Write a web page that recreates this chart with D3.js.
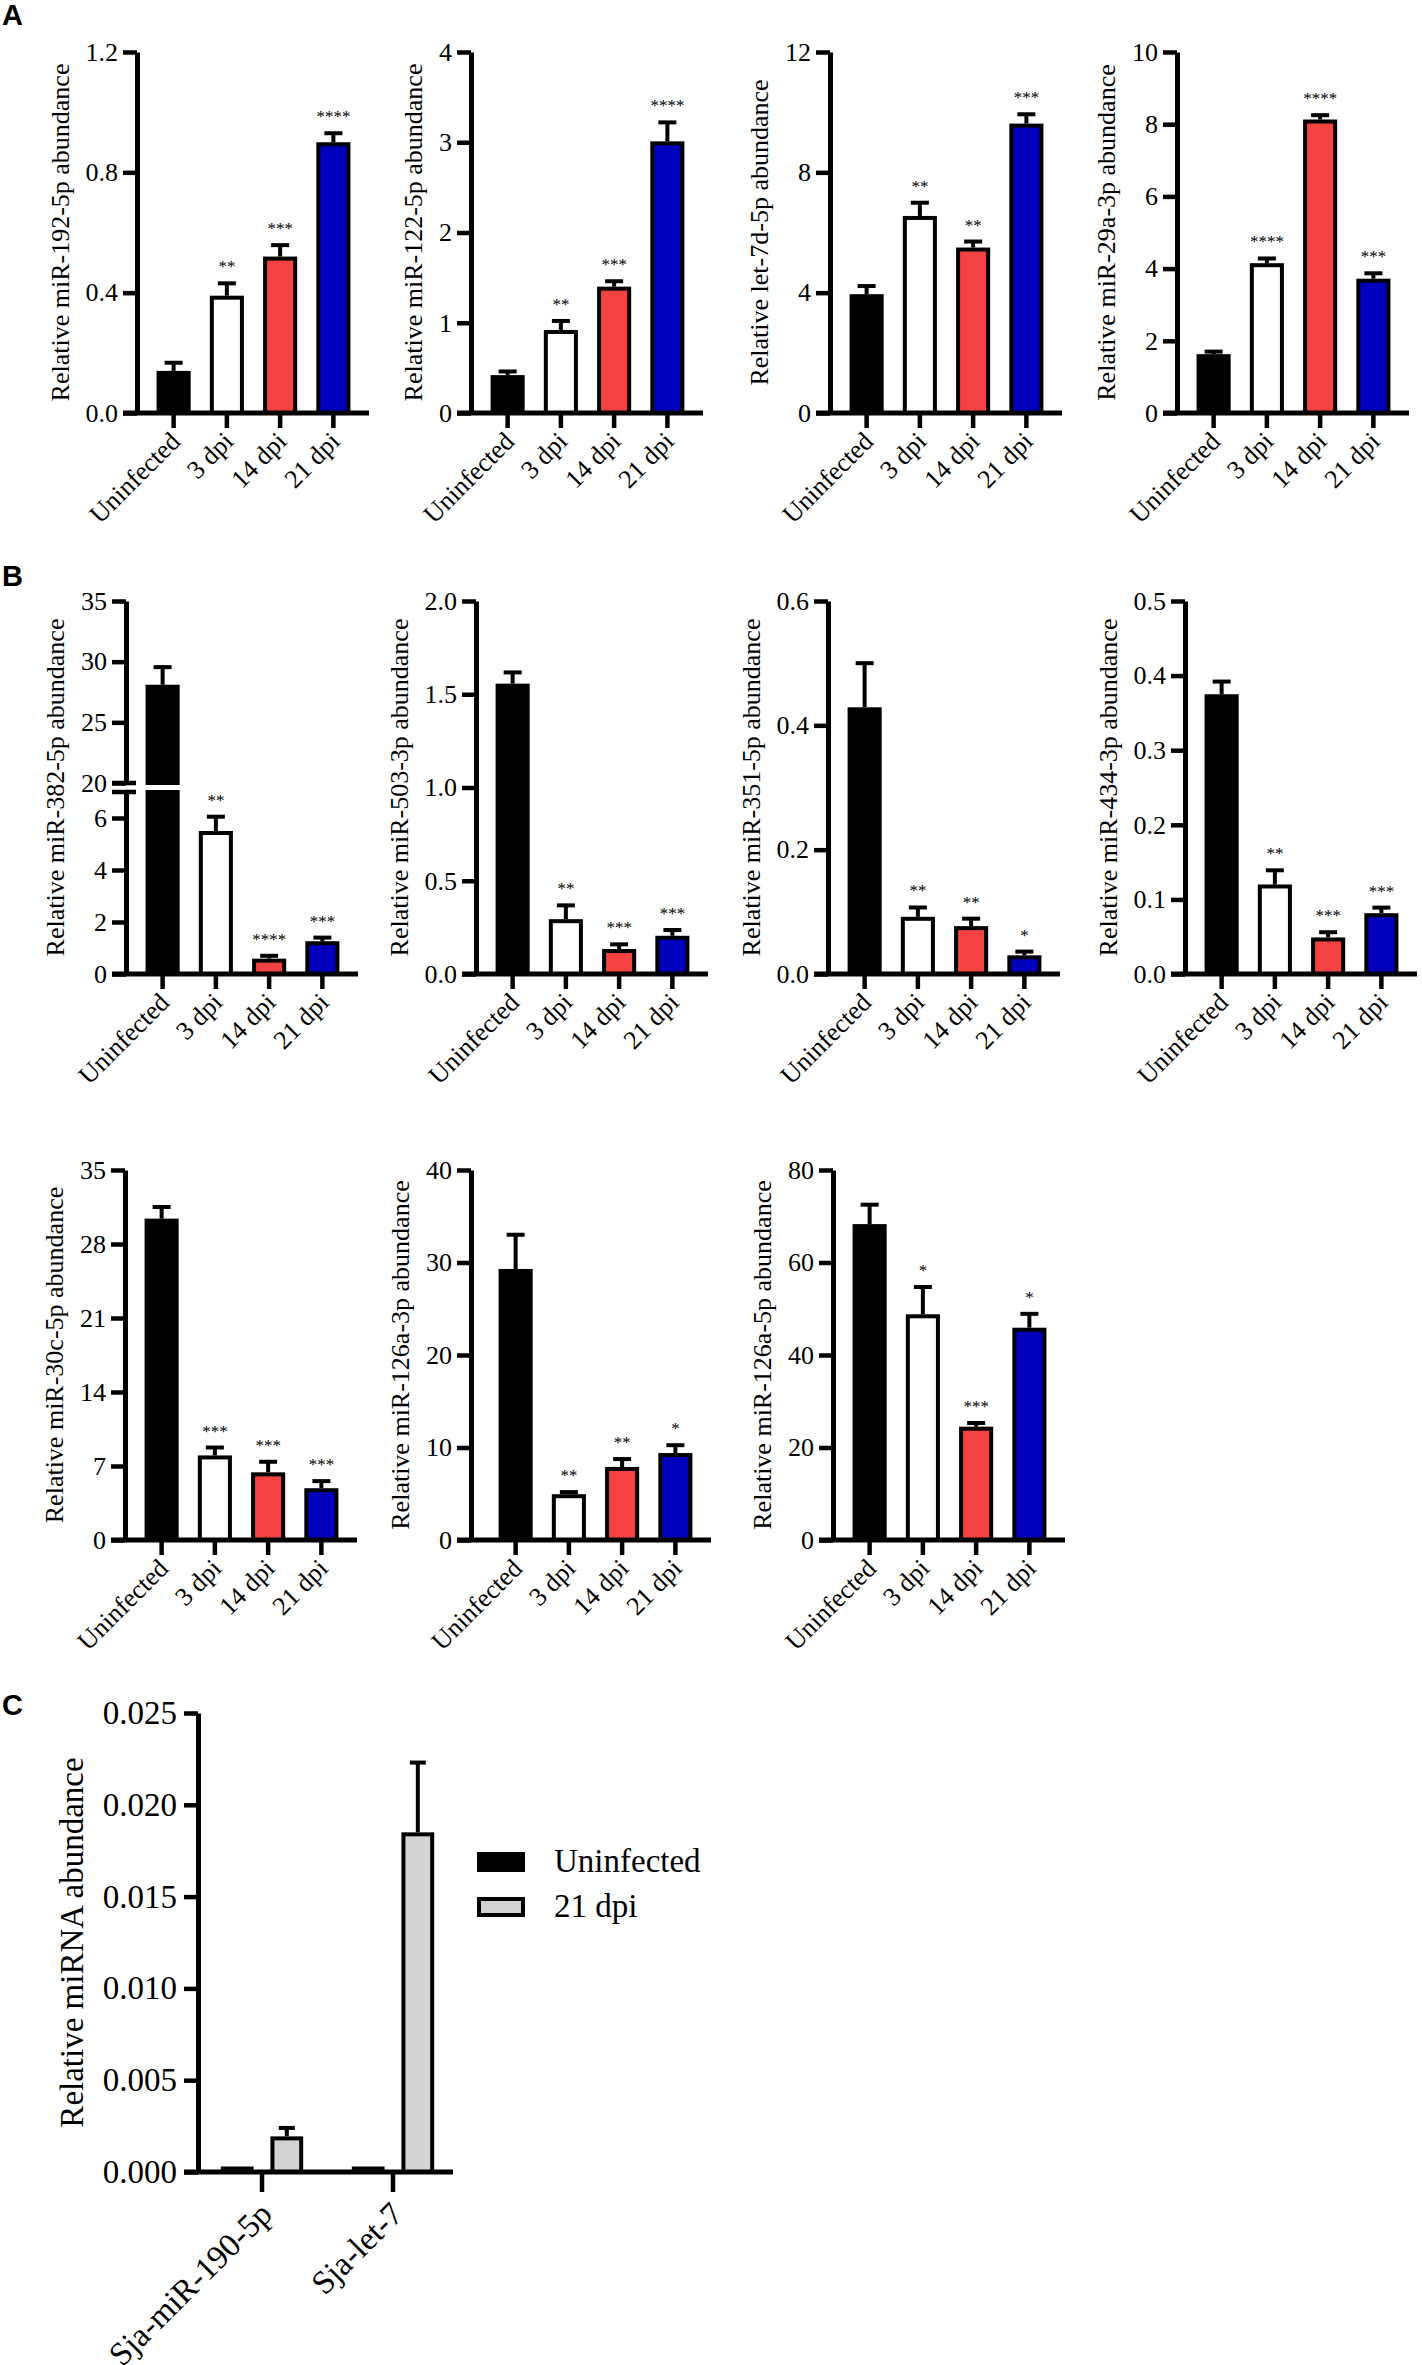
<!DOCTYPE html>
<html>
<head>
<meta charset="utf-8">
<script src="https://cdn.jsdelivr.net/npm/d3@7"></script>
<style>
  body { margin: 0; background: #fff; }
  svg { display: block; }
  text { font-family: "Liberation Serif", "DejaVu Serif", "Times New Roman", serif; fill: #000; }
</style>
</head>
<body>
<svg width="1422" height="2365"></svg>
<script>
  // DATA
  var groups = ["Uninfected", "3 dpi", "14 dpi", "21 dpi"];
  var groupColors = ["#000000", "#ffffff", "#f44242", "#0000bd"];

  var mir192 = [0.14, 0.39, 0.52, 0.90];
  var mir192Err = [0.027, 0.041, 0.038, 0.03];
  var mir192Sig = ["", "**", "***", "****"];

  var mir122 = [0.42, 0.92, 1.40, 3.01];
  var mir122Err = [0.04, 0.10, 0.06, 0.21];
  var mir122Sig = ["", "**", "***", "****"];

  var let7d = [3.95, 6.55, 5.5, 9.62];
  var let7dErr = [0.27, 0.44, 0.2, 0.31];
  var let7dSig = ["", "**", "**", "***"];

  var mir29a = [1.63, 4.15, 8.13, 3.72];
  var mir29aErr = [0.07, 0.13, 0.12, 0.15];
  var mir29aSig = ["", "****", "****", "***"];

  var mir382 = [28.1, 5.5, 0.59, 1.26];
  var mir382Err = [1.45, 0.55, 0.11, 0.14];
  var mir382Sig = ["", "**", "****", "***"];

  var mir503 = [1.557, 0.294, 0.134, 0.205];
  var mir503Err = [0.06, 0.074, 0.025, 0.031];
  var mir503Sig = ["", "**", "***", "***"];

  var mir351 = [0.429, 0.092, 0.077, 0.030];
  var mir351Err = [0.071, 0.015, 0.012, 0.006];
  var mir351Sig = ["", "**", "**", "*"];

  var mir434 = [0.375, 0.12, 0.049, 0.0815];
  var mir434Err = [0.017, 0.019, 0.007, 0.0075];
  var mir434Sig = ["", "**", "***", "***"];

  var mir30c = [30.4, 8.0, 6.4, 4.9];
  var mir30cErr = [1.1, 0.75, 1.0, 0.67];
  var mir30cSig = ["", "***", "***", "***"];

  var mir126a3p = [29.3, 4.95, 7.9, 9.4];
  var mir126a3pErr = [3.7, 0.23, 0.85, 0.85];
  var mir126a3pSig = ["", "**", "**", "*"];

  var mir126a5p = [68.3, 48.8, 24.5, 45.9];
  var mir126a5pErr = [4.2, 5.9, 0.8, 3.0];
  var mir126a5pSig = ["", "*", "***", "*"];

  // panel C
  var sjaMirs = ["Sja-miR-190-5p", "Sja-let-7"];
  var sjaGroups = ["Uninfected", "21 dpi"];
  var sjaColors = ["#000000", "#d3d3d3"];
  var sjaUninf = [0.0003, 0.0003];
  var sjaUninfErr = [0, 0];
  var sja21 = [0.00194, 0.0185];
  var sja21Err = [0.00046, 0.0038];
  var sjaTicks = [0, 0.005, 0.010, 0.015, 0.020, 0.025];

  // SETUP
  var svg = d3.select("svg");
  var serif = '"Liberation Serif", "DejaVu Serif", "Times New Roman", serif';

  var panels = [
    { label: "Relative miR-192-5p abundance", v: mir192, e: mir192Err, s: mir192Sig, ticks: [0, 0.4, 0.8, 1.2], fmt: ".1f" },
    { label: "Relative miR-122-5p abundance", v: mir122, e: mir122Err, s: mir122Sig, ticks: [0, 1, 2, 3, 4], fmt: "d" },
    { label: "Relative let-7d-5p abundance", v: let7d, e: let7dErr, s: let7dSig, ticks: [0, 4, 8, 12], fmt: "d" },
    { label: "Relative miR-29a-3p abundance", v: mir29a, e: mir29aErr, s: mir29aSig, ticks: [0, 2, 4, 6, 8, 10], fmt: "d" },
    { label: "Relative miR-382-5p abundance", v: mir382, e: mir382Err, s: mir382Sig, ticks: [0, 2, 4, 6], upperTicks: [20, 25, 30, 35], fmt: "d" },
    { label: "Relative miR-503-3p abundance", v: mir503, e: mir503Err, s: mir503Sig, ticks: [0, 0.5, 1, 1.5, 2], fmt: ".1f" },
    { label: "Relative miR-351-5p abundance", v: mir351, e: mir351Err, s: mir351Sig, ticks: [0, 0.2, 0.4, 0.6], fmt: ".1f" },
    { label: "Relative miR-434-3p abundance", v: mir434, e: mir434Err, s: mir434Sig, ticks: [0, 0.1, 0.2, 0.3, 0.4, 0.5], fmt: ".1f" },
    { label: "Relative miR-30c-5p abundance", v: mir30c, e: mir30cErr, s: mir30cSig, ticks: [0, 7, 14, 21, 28, 35], fmt: "d" },
    { label: "Relative miR-126a-3p abundance", v: mir126a3p, e: mir126a3pErr, s: mir126a3pSig, ticks: [0, 10, 20, 30, 40], fmt: "d" },
    { label: "Relative miR-126a-5p abundance", v: mir126a5p, e: mir126a5pErr, s: mir126a5pSig, ticks: [0, 20, 40, 60, 80], fmt: "d" }
  ];

  // layout: axis x positions (and bar shift) and plot top/bottom for each row
  var rows = [
    { xs: [137, 471, 830, 1177], shift: [0, 0, 0, 0], top: 52, bottom: 413, first: 0 },
    { xs: [126, 476, 828, 1185], shift: [0, 0, 0, 0], top: 601, bottom: 974, first: 4 },
    { xs: [125, 471, 833], shift: [0, 8, 0], top: 1170, bottom: 1540, first: 8 }
  ];

  rows.forEach(function (r) {
    r.xs.forEach(function (X, i) {
      drawPanel(panels[r.first + i], X, r.shift[i], r.top, r.bottom);
    });
  });

  // panel letters
  [["A", 25], ["B", 586], ["C", 1715]].forEach(function (l) {
    svg.append("text").attr("x", 2).attr("y", l[1]).text(l[0])
      .style("font-family", '"Liberation Sans", Arial, sans-serif')
      .attr("font-weight", "bold").attr("font-size", 29);
  });

  drawSja(198, 1713, 2172);

  function styleYAxis(a) {
    a.select(".domain").attr("stroke-width", 5);
    a.selectAll(".tick line").attr("stroke-width", 4.5);
    a.attr("font-family", serif).attr("font-size", 26);
  }

  function drawPanel(p, X, shift, top, bottom) {
    var g = svg.append("g").attr("transform", "translate(" + X + ",0)");
    var x = d3.scaleBand().domain(groups).range([10 + shift, 223 + shift]).paddingInner(0.36).paddingOuter(0.18);
    var bw = x.bandwidth();
    var broken = !!p.upperTicks;

    // scales (broken axis for miR-382)
    var yLow, yUp = null, cut = 0;
    if (broken) {
      var mid = (top + bottom) / 2;
      yLow = d3.scaleLinear().domain([0, 7]).range([bottom, mid + 4.5]);
      yUp = d3.scaleLinear().domain([20, 35]).range([mid - 4.5, top]);
      cut = 7;
    } else {
      yLow = d3.scaleLinear().domain([0, d3.max(p.ticks)]).range([bottom, top]);
    }
    function yv(v) { return (broken && v > cut) ? yUp(v) : yLow(v); }

    // bars
    p.v.forEach(function (v, i) {
      var x0 = x(groups[i]) + 2, w = bw - 4;
      if (broken && v > cut) {
        g.append("rect").attr("x", x0).attr("width", w)
          .attr("y", yLow(cut)).attr("height", bottom - yLow(cut))
          .attr("fill", groupColors[i]).attr("stroke", "#000").attr("stroke-width", 4);
        g.append("rect").attr("x", x0).attr("width", w)
          .attr("y", yUp(v) + 2).attr("height", yUp(20) - yUp(v) - 2)
          .attr("fill", groupColors[i]).attr("stroke", "#000").attr("stroke-width", 4);
      } else {
        g.append("rect").attr("x", x0).attr("width", w)
          .attr("y", yLow(v) + 2).attr("height", Math.max(0, bottom - yLow(v) - 2))
          .attr("fill", groupColors[i]).attr("stroke", "#000").attr("stroke-width", 4);
      }
      // error bar
      var cx = x(groups[i]) + bw / 2, y1 = yv(v), y2 = yv(v + p.e[i]);
      g.append("line").attr("x1", cx).attr("x2", cx).attr("y1", y1).attr("y2", y2)
        .attr("stroke", "#000").attr("stroke-width", 4);
      g.append("line").attr("x1", cx - 9).attr("x2", cx + 9).attr("y1", y2).attr("y2", y2)
        .attr("stroke", "#000").attr("stroke-width", 4);
      if (p.s[i]) {
        g.append("text").attr("x", cx).attr("y", y2 - 11)
          .attr("text-anchor", "middle").attr("font-size", 17).text(p.s[i]);
      }
    });

    // y axis
    var ya = g.append("g").call(d3.axisLeft(yLow).tickValues(p.ticks)
      .tickFormat(d3.format(p.fmt)).tickSize(14).tickSizeOuter(0).tickPadding(5));
    styleYAxis(ya);
    var yAxes = [ya];
    if (broken) {
      var yb = g.append("g").call(d3.axisLeft(yUp).tickValues(p.upperTicks)
        .tickFormat(d3.format("d")).tickSize(14).tickSizeOuter(0).tickPadding(5));
      styleYAxis(yb);
      yAxes.push(yb);
      [yUp(20), yLow(cut)].forEach(function (yy) {
        g.append("line").attr("x1", -14).attr("x2", 10).attr("y1", yy).attr("y2", yy)
          .attr("stroke", "#000").attr("stroke-width", 4.5);
      });
    }

    // x axis
    g.append("line").attr("x1", -14).attr("x2", 232 + shift).attr("y1", bottom).attr("y2", bottom)
      .attr("stroke", "#000").attr("stroke-width", 5);
    var xa = g.append("g").attr("transform", "translate(0," + bottom + ")")
      .call(d3.axisBottom(x).tickSize(15).tickSizeOuter(0));
    xa.select(".domain").remove();
    xa.selectAll(".tick line").attr("stroke-width", 4.5);
    xa.attr("font-family", serif).attr("font-size", 26);
    xa.selectAll(".tick text")
      .attr("x", 0).attr("y", 0).attr("dy", 0)
      .attr("text-anchor", "end")
      .attr("transform", "translate(8,30) rotate(-45)");

    // y label, placed left of the widest tick label
    var minX = 0;
    yAxes.forEach(function (a) {
      a.selectAll(".tick text").each(function () { minX = Math.min(minX, this.getBBox().x); });
    });
    var cy = (top + bottom) / 2;
    g.append("text").attr("transform", "translate(" + (minX - 17) + "," + cy + ") rotate(-90)")
      .attr("text-anchor", "middle").attr("font-size", 26).text(p.label);
  }

  function drawSja(X, top, bottom) {
    var g = svg.append("g").attr("transform", "translate(" + X + ",0)");
    var x0 = d3.scaleBand().domain(sjaMirs).range([-1.5, 260.5]);
    var x1 = d3.scaleBand().domain(sjaGroups).range([0, x0.bandwidth()]).paddingInner(0.34).paddingOuter(0.49);
    var y = d3.scaleLinear().domain([0, 0.025]).range([bottom, top]);
    var series = [
      { name: sjaGroups[0], v: sjaUninf, e: sjaUninfErr, c: sjaColors[0] },
      { name: sjaGroups[1], v: sja21, e: sja21Err, c: sjaColors[1] }
    ];
    series.forEach(function (s) {
      sjaMirs.forEach(function (m, i) {
        var bx = x0(m) + x1(s.name);
        var bw = x1.bandwidth();
        var top0 = Math.min(y(s.v[i]), bottom - 4);
        g.append("rect").attr("x", bx + 2).attr("width", bw - 4)
          .attr("y", top0 + 2).attr("height", Math.max(1, bottom - top0 - 2))
          .attr("fill", s.c).attr("stroke", "#000").attr("stroke-width", 4);
        if (s.e[i] > 0) {
          var cx = bx + bw / 2;
          g.append("line").attr("x1", cx).attr("x2", cx).attr("y1", y(s.v[i])).attr("y2", y(s.v[i] + s.e[i]))
            .attr("stroke", "#000").attr("stroke-width", 4);
          g.append("line").attr("x1", cx - 8).attr("x2", cx + 8)
            .attr("y1", y(s.v[i] + s.e[i])).attr("y2", y(s.v[i] + s.e[i]))
            .attr("stroke", "#000").attr("stroke-width", 4);
        }
      });
    });

    var ya = g.append("g").call(d3.axisLeft(y).tickValues(sjaTicks)
      .tickFormat(d3.format(".3f")).tickSize(14).tickSizeOuter(0).tickPadding(7));
    ya.select(".domain").attr("stroke-width", 5);
    ya.selectAll(".tick line").attr("stroke-width", 4.5);
    ya.attr("font-family", serif).attr("font-size", 33);

    g.append("line").attr("x1", -14).attr("x2", 255).attr("y1", bottom).attr("y2", bottom)
      .attr("stroke", "#000").attr("stroke-width", 5);
    var xa = g.append("g").attr("transform", "translate(0," + bottom + ")")
      .call(d3.axisBottom(x0).tickSize(20).tickSizeOuter(0));
    xa.select(".domain").remove();
    xa.selectAll(".tick line").attr("stroke-width", 4.5);
    xa.attr("font-family", serif).attr("font-size", 33);
    xa.selectAll(".tick text")
      .attr("x", 0).attr("y", 0).attr("dy", 0)
      .attr("text-anchor", "end")
      .attr("transform", "translate(12,44) rotate(-45)");

    var minX = 0;
    ya.selectAll(".tick text").each(function () { minX = Math.min(minX, this.getBBox().x); });
    g.append("text").attr("transform", "translate(" + (minX - 20) + "," + ((top + bottom) / 2) + ") rotate(-90)")
      .attr("text-anchor", "middle").attr("font-size", 33).text("Relative miRNA abundance");

    // legend
    var lg = svg.append("g").attr("transform", "translate(477,1852)");
    sjaGroups.forEach(function (name, i) {
      lg.append("rect").attr("x", 2).attr("y", i * 45 + 2).attr("width", 44).attr("height", 16)
        .attr("fill", sjaColors[i]).attr("stroke", "#000").attr("stroke-width", 4);
      lg.append("text").attr("x", 77).attr("y", i * 45 + 20).attr("font-size", 33).text(name);
    });
  }
</script>
</body>
</html>
